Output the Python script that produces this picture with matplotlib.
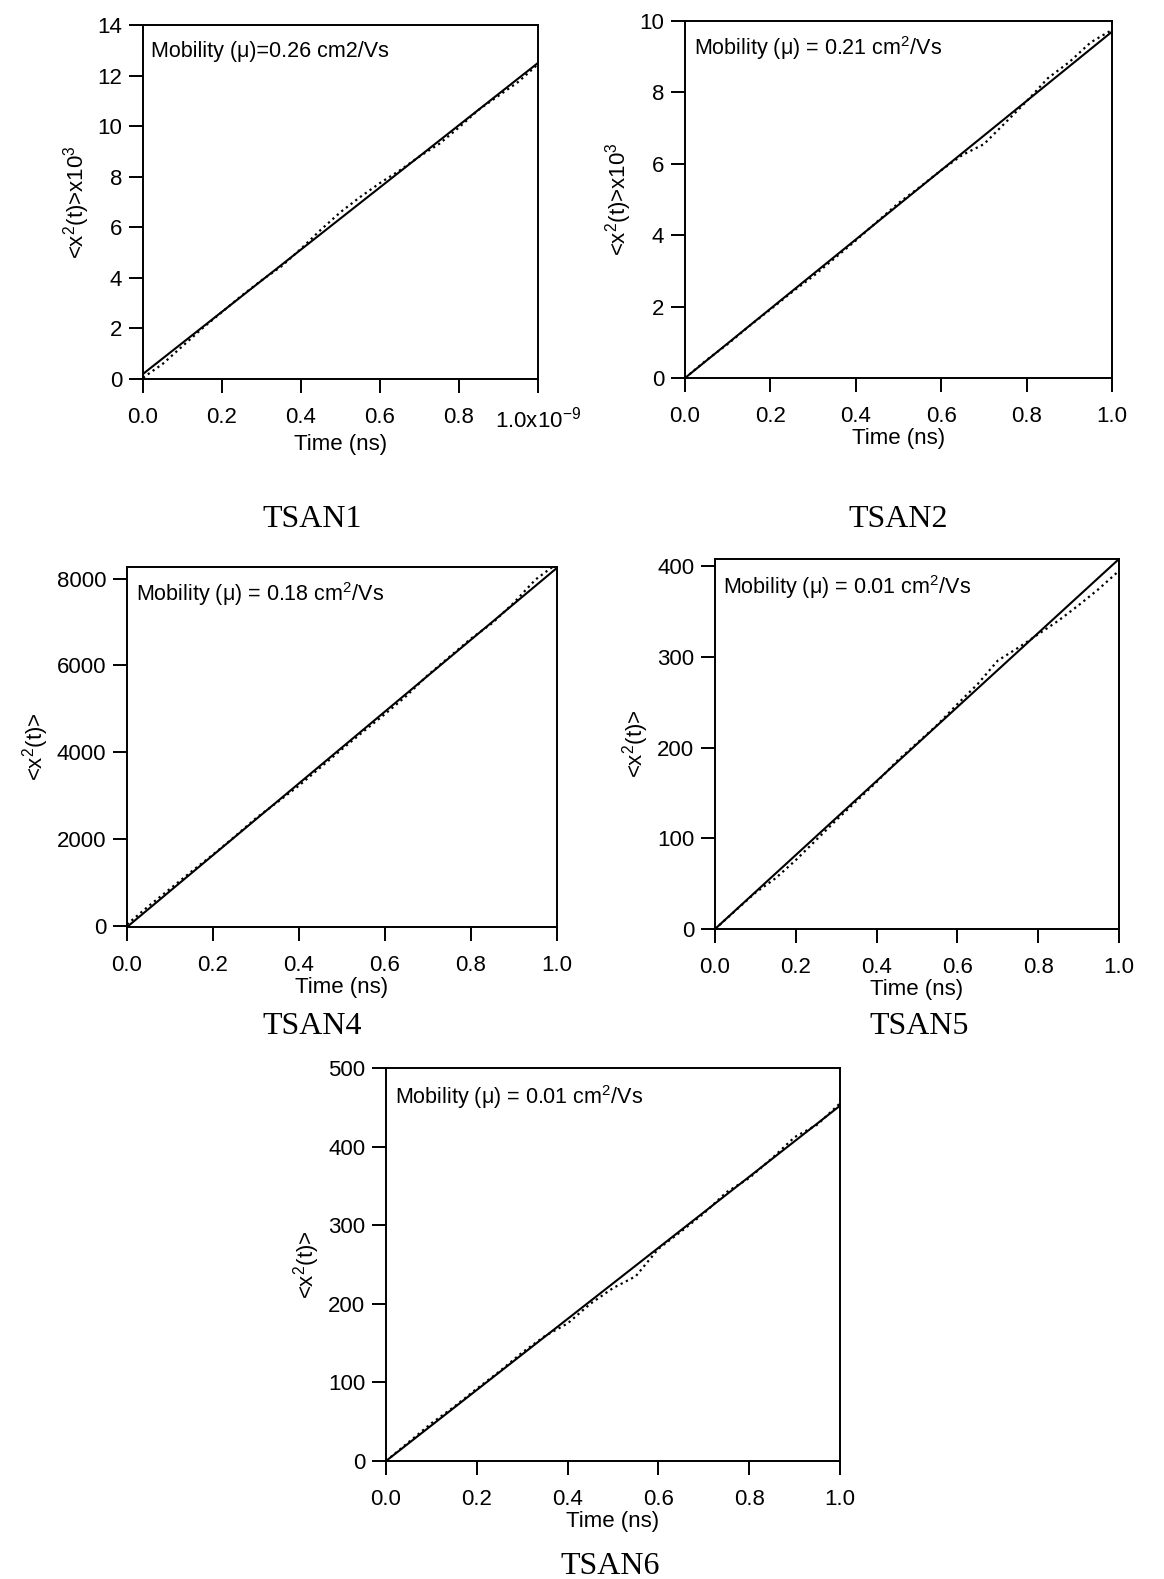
import numpy as np
import matplotlib
matplotlib.use('Agg')
import matplotlib.pyplot as plt

plt.rcParams['font.family'] = ['Liberation Sans', 'DejaVu Sans']
plt.rcParams['mathtext.fontset'] = 'custom'
plt.rcParams['mathtext.rm'] = 'Liberation Sans'
plt.rcParams['mathtext.it'] = 'Liberation Sans:italic'
plt.rcParams['mathtext.default'] = 'regular'

# time axis (ns)
t = [0.0, 0.05, 0.1, 0.15, 0.2, 0.25, 0.3, 0.35, 0.4, 0.45, 0.5,
     0.55, 0.6, 0.65, 0.7, 0.75, 0.8, 0.85, 0.9, 0.95, 1.0]
fit_t = [0.0, 1.0]

# TSAN1 (x10^3)
tsan1_msd = [0.05, 0.6, 1.3, 2.0, 2.65, 3.3, 3.9, 4.45, 5.15, 5.9, 6.6,
             7.2, 7.75, 8.25, 8.8, 9.3, 9.95, 10.65, 11.2, 11.75, 12.45]
tsan1_fit = [0.2, 12.5]
# TSAN2 (x10^3)
tsan2_msd = [0.0, 0.5, 0.95, 1.45, 1.92, 2.4, 2.85, 3.35, 3.85, 4.38, 4.9,
             5.35, 5.82, 6.25, 6.55, 7.15, 7.75, 8.4, 8.85, 9.4, 9.75]
tsan2_fit = [0.0, 9.7]
# TSAN4
tsan4_msd = [30, 450, 850, 1250, 1640, 2050, 2480, 2850, 3230, 3650, 4070,
             4480, 4880, 5300, 5780, 6200, 6620, 6980, 7450, 7980, 8350]
tsan4_fit = [-30, 8250]
# TSAN5
tsan5_msd = [0, 20, 40, 56, 76, 98, 120, 141, 162, 185, 205,
             225, 248, 270, 296, 310, 325, 340, 357, 375, 395]
tsan5_fit = [0, 408]
# TSAN6
tsan6_msd = [0, 24, 48, 69, 92, 114, 138, 159, 175, 200, 220,
             235, 270, 292, 315, 342, 360, 385, 412, 428, 455]
tsan6_fit = [0, 452]

W, H = 1164, 1579
fig = plt.figure(figsize=(W / 100, H / 100), dpi=100)


def rect(l, top, r, b):
    return [l / W, (H - b) / H, (r - l) / W, (b - top) / H]


def panel(box, msd, fit, ylim, yticks, ylabel, note, name, name_xy, xlast='1.0'):
    ax = fig.add_axes(rect(*box))
    ax.plot(t, msd, color='black', linestyle=':', linewidth=1.6)
    ax.plot(fit_t, fit, color='black', linewidth=1.5)
    ax.set_xlim(0, 1.0)
    ax.set_ylim(*ylim)
    ax.set_xticks([0.0, 0.2, 0.4, 0.6, 0.8, 1.0])
    ax.set_xticklabels(['0.0', '0.2', '0.4', '0.6', '0.8', xlast])
    ax.set_yticks(yticks)
    for s in ax.spines.values():
        s.set_linewidth(1.4)
    ax.tick_params(axis='both', direction='out', length=10, width=1.4,
                   labelsize=16, colors='black')
    ax.tick_params(axis='x', pad=10)
    ax.tick_params(axis='y', pad=5)
    ax.set_xlabel('Time (ns)', fontsize=16, labelpad=1)
    ax.set_ylabel(ylabel, fontsize=16, labelpad=4)
    ax.text(0.02, 0.925, note, transform=ax.transAxes, fontsize=15.5,
            ha='left', va='center')
    fig.text(name_xy[0] / W, 1 - name_xy[1] / H, name, fontsize=23,
             family='Liberation Serif', ha='center', va='center')
    return ax


panel((143, 25, 538, 379), tsan1_msd, tsan1_fit, (0, 14), range(0, 15, 2),
      '<x$^2$(t)>x10$^3$', 'Mobility (\u03bc)=0.26 cm2/Vs', 'TSAN1', (312, 519),
      xlast='1.0x10$^{-9}$')
panel((685, 21, 1112, 378), tsan2_msd, tsan2_fit, (0, 10), range(0, 11, 2),
      '<x$^2$(t)>x10$^3$', 'Mobility (\u03bc) = 0.21 cm$^2$/Vs', 'TSAN2', (898, 519))
panel((127, 567, 557, 927), tsan4_msd, tsan4_fit, (-30, 8270), range(0, 8001, 2000),
      '<x$^2$(t)>', 'Mobility (\u03bc) = 0.18 cm$^2$/Vs', 'TSAN4', (312, 1027))
panel((715, 559, 1119, 929), tsan5_msd, tsan5_fit, (0, 408), range(0, 401, 100),
      '<x$^2$(t)>', 'Mobility (\u03bc) = 0.01 cm$^2$/Vs', 'TSAN5', (919, 1027))
panel((386, 1068, 840, 1461), tsan6_msd, tsan6_fit, (0, 500), range(0, 501, 100),
      '<x$^2$(t)>', 'Mobility (\u03bc) = 0.01 cm$^2$/Vs', 'TSAN6', (610, 1566))

fig.savefig('out.png', dpi=100, facecolor='white')
